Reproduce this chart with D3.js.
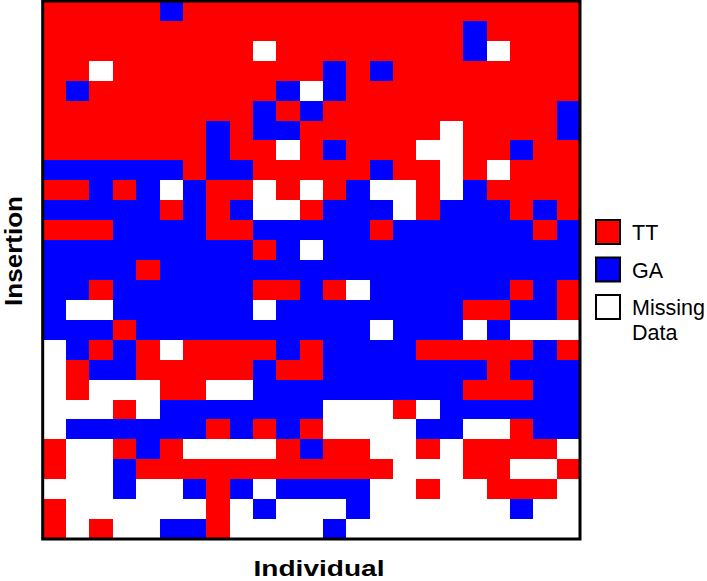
<!DOCTYPE html>
<html>
<head>
<meta charset="utf-8">
<script src="https://cdn.jsdelivr.net/npm/d3@7"></script>
<style>
  body { margin: 0; background: #fff; }
  svg { display: block; font-family: "Liberation Sans", Arial, Helvetica, sans-serif; }
</style>
</head>
<body>
<svg id="chart" width="707" height="581"></svg>
<script>
// columns = individuals, rows = insertions
var individuals = ["1","2","3","4","5","6","7","8","9","10","11","12","13","14","15","16","17","18","19","20","21","22","23"];
var insertions = ["1","2","3","4","5","6","7","8","9","10","11","12","13","14","15","16","17","18","19","20","21","22","23","24","25","26","27"];

// one string per insertion, one letter per individual: R = TT, B = GA, W = missing
var genotypes = [
  "RRRRRBRRRRRRRRRRRRRRRRR",
  "RRRRRRRRRRRRRRRRRRBRRRR",
  "RRRRRRRRRWRRRRRRRRBWRRR",
  "RRWRRRRRRRRRBRBRRRRRRRR",
  "RBRRRRRRRRBWBRRRRRRRRRR",
  "RRRRRRRRRBRBRRRRRRRRRRB",
  "RRRRRRRBRBBRRRRRRWRRRRB",
  "RRRRRRRBRRWRBRRRWWRRBRR",
  "BBBBBBRBBRRRRRBRRWRWRRR",
  "RRBRBWBRRWRWRBWWRWBRRRR",
  "BBBBBRBRBWWRBBBWRBBBRBR",
  "RRRBBBBRRBBBBBRBBBBBBRB",
  "BBBBBBBBBRBWBBBBBBBBBBB",
  "BBBBRBBBBBBBBBBBBBBBBBB",
  "BBRBBBBBBRRBRWBBBBBBRBR",
  "BWWBBBBBBWBBBBBBBBRRBBR",
  "BBBRBBBBBBBBBBWBBBWBWWW",
  "WBRBRWRRRRBRBBBBRRRRRBR",
  "WRBBRRRRRBRRBBBBBBBRBBB",
  "WRWWWRRWWBBBBBBBBBRRRBB",
  "WWWRWBBBBBBBWWWRWBBBBBB",
  "WBBBBBBRBRBRWWWWBBWWRBB",
  "RWWRBRWWWWRBRRWWRWRRRRW",
  "RWWBRRRRRRRRRRRWWWRRWWR",
  "WWWBWWBRBWBBBBWWRWWRRRW",
  "RWWWWWWRWBWWWBWWWWWWBWW",
  "RWRWWBBRWWWWBWWWWWWWWWW"
];

var genotypeCodes = ["R", "B", "W"];
var genotypeLabels = [["TT"], ["GA"], ["Missing", "Data"]];
var genotypeColors = ["#ff0000", "#0000ff", "#ffffff"];

(function() {
  var svg = d3.select("#chart");

  // grid edges in px
  var x0 = 42.7, x1 = 580, y0 = 1, y1 = 539;

  var x = d3.scaleBand()
      .domain(individuals)
      .range([x0, x1]);

  var y = d3.scaleBand()
      .domain(insertions)
      .range([y0, y1]);

  var color = d3.scaleOrdinal()
      .domain(genotypeCodes)
      .range(genotypeColors);

  // flatten the rows into cells
  var cells = [];
  genotypes.forEach(function(row, i) {
    row.split("").forEach(function(code, j) {
      cells.push({ row: insertions[i], col: individuals[j], code: code });
    });
  });

  svg.append("g")
      .attr("class", "cells")
    .selectAll("rect")
      .data(cells)
    .enter().append("rect")
      .attr("x", function(d) { return x(d.col); })
      .attr("y", function(d) { return y(d.row); })
      .attr("width", x.bandwidth() + 0.5)
      .attr("height", y.bandwidth() + 0.5)
      .attr("fill", function(d) { return color(d.code); })
      .attr("shape-rendering", "crispEdges");

  // frame round the grid
  svg.append("rect")
      .attr("x", x0)
      .attr("y", y0)
      .attr("width", x1 - x0)
      .attr("height", y1 - y0)
      .attr("fill", "none")
      .attr("stroke", "#000")
      .attr("stroke-width", 3);

  // axis titles
  svg.append("text")
      .attr("x", 319)
      .attr("y", 576)
      .attr("text-anchor", "middle")
      .attr("font-size", 22)
      .attr("font-weight", "bold")
      .attr("textLength", 131)
      .attr("lengthAdjust", "spacingAndGlyphs")
      .text("Individual");

  svg.append("text")
      .attr("transform", "translate(22,251) rotate(-90)")
      .attr("text-anchor", "middle")
      .attr("font-size", 24)
      .attr("font-weight", "bold")
      .attr("textLength", 110)
      .attr("lengthAdjust", "spacingAndGlyphs")
      .text("Insertion");

  // legend
  var legend = svg.append("g")
      .attr("class", "legend")
    .selectAll("g")
      .data(genotypeCodes)
    .enter().append("g")
      .attr("transform", function(d, i) { return "translate(596," + (220 + i * 37.5) + ")"; });

  legend.append("rect")
      .attr("width", 24)
      .attr("height", 24)
      .attr("fill", function(d) { return color(d); })
      .attr("stroke", "#000")
      .attr("stroke-width", 2);

  legend.each(function(d, i) {
    var t = d3.select(this).append("text")
        .attr("x", 36)
        .attr("y", 20)
        .attr("font-size", 21.5);
    genotypeLabels[i].forEach(function(line, k) {
      t.append("tspan")
          .attr("x", 36)
          .attr("dy", k ? 25 : 0)
          .text(line);
    });
  });
})();
</script>
</body>
</html>
